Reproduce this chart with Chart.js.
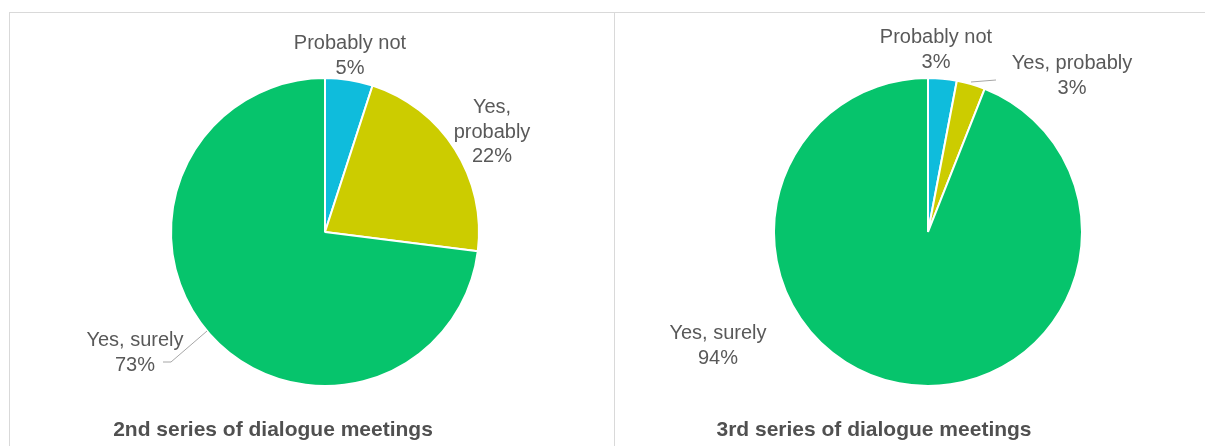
<!DOCTYPE html>
<html>
<head>
<meta charset="utf-8">
<script src="https://cdn.jsdelivr.net/npm/chart.js@4/dist/chart.umd.min.js"></script>
<style>
  body { margin: 0; background: #fff; width: 1205px; height: 446px; overflow: hidden; position: relative; font-family: "Liberation Sans", Arial, sans-serif; }
  .panel { position: absolute; top: 12px; border: 1px solid #d9d9d9; border-bottom: none; box-sizing: border-box; }
  #p1 { left: 9px; width: 606px; height: 434px; }
  #p2 { left: 614px; width: 600px; height: 434px; border-left: none; }
  canvas { position: absolute; }
  .title { position: absolute; font-size: 21px; font-weight: bold; color: #505050; white-space: nowrap; transform: translateX(-50%); }
</style>
</head>
<body>
<div class="panel" id="p1"></div>
<div class="panel" id="p2"></div>
<canvas id="c1" width="600" height="430" style="left:25px;top:17px"></canvas>
<canvas id="c2" width="600" height="430" style="left:628px;top:17px"></canvas>
<div class="title" style="left:273px;top:417px">2nd series of dialogue meetings</div>
<div class="title" style="left:874px;top:417px">3rd series of dialogue meetings</div>
<script>
const categories = ["Probably not", "Yes, probably", "Yes, surely"];
const series2nd = [5, 22, 73];
const series3rd = [3, 3, 94];
const sliceColors = ["#0fbcdc", "#cccc00", "#06c46c"];

// label text lines per chart (as they wrap in the picture)
const labels2nd = [["Probably not", "5%"], ["Yes,", "probably", "22%"], ["Yes, surely", "73%"]];
const labels3rd = [["Probably not", "3%"], ["Yes, probably", "3%"], ["Yes, surely", "94%"]];

// draws the data labels next to each slice, plus leader lines
const sliceLabels = {
    id: "sliceLabels",
    afterDatasetsDraw(chart, args, opts) {
        const ctx = chart.ctx;
        const arcs = chart.getDatasetMeta(0).data;
        ctx.save();
        ctx.font = "20px 'Liberation Sans', Arial, sans-serif";
        ctx.fillStyle = "#595959";
        ctx.textAlign = "center";
        ctx.textBaseline = "middle";
        arcs.forEach((arc, i) => {
            const p = opts.pos[i];
            const x = arc.x + p[0], y = arc.y + p[1];
            const lines = opts.text[i];
            lines.forEach((t, k) => {
                ctx.fillText(t, x, y + (k - (lines.length - 1) / 2) * 24.5);
            });
            const ld = opts.leaders[i];
            if (ld) {
                ctx.strokeStyle = "#a6a6a6";
                ctx.lineWidth = 1;
                ctx.beginPath();
                ctx.moveTo(arc.x + ld[0][0], arc.y + ld[0][1]);
                for (let j = 1; j < ld.length; j++) ctx.lineTo(arc.x + ld[j][0], arc.y + ld[j][1]);
                ctx.stroke();
            }
        });
        ctx.restore();
    }
};

function makePie(id, values, text, pos, leaders) {
    return new Chart(document.getElementById(id), {
        type: "pie",
        data: {
            labels: categories,
            datasets: [{
                data: values,
                backgroundColor: sliceColors,
                borderColor: "#ffffff",
                borderWidth: 2,
                radius: 154
            }]
        },
        options: {
            responsive: false,
            animation: false,
            plugins: {
                legend: { display: false },
                tooltip: { enabled: false },
                sliceLabels: { text: text, pos: pos, leaders: leaders }
            }
        },
        plugins: [sliceLabels]
    });
}

// canvas 600x430 -> chart centre at (300,215) in canvas
makePie("c1", series2nd, labels2nd,
    [[25, -176], [167, -100], [-190, 121]],
    [null, null, [[-162, 130], [-154, 130], [-118, 99]]]);
makePie("c2", series3rd, labels3rd,
    [[8, -182], [144, -156], [-210, 114]],
    [null, [[43, -150], [68, -152]], null]);
</script>
</body>
</html>
